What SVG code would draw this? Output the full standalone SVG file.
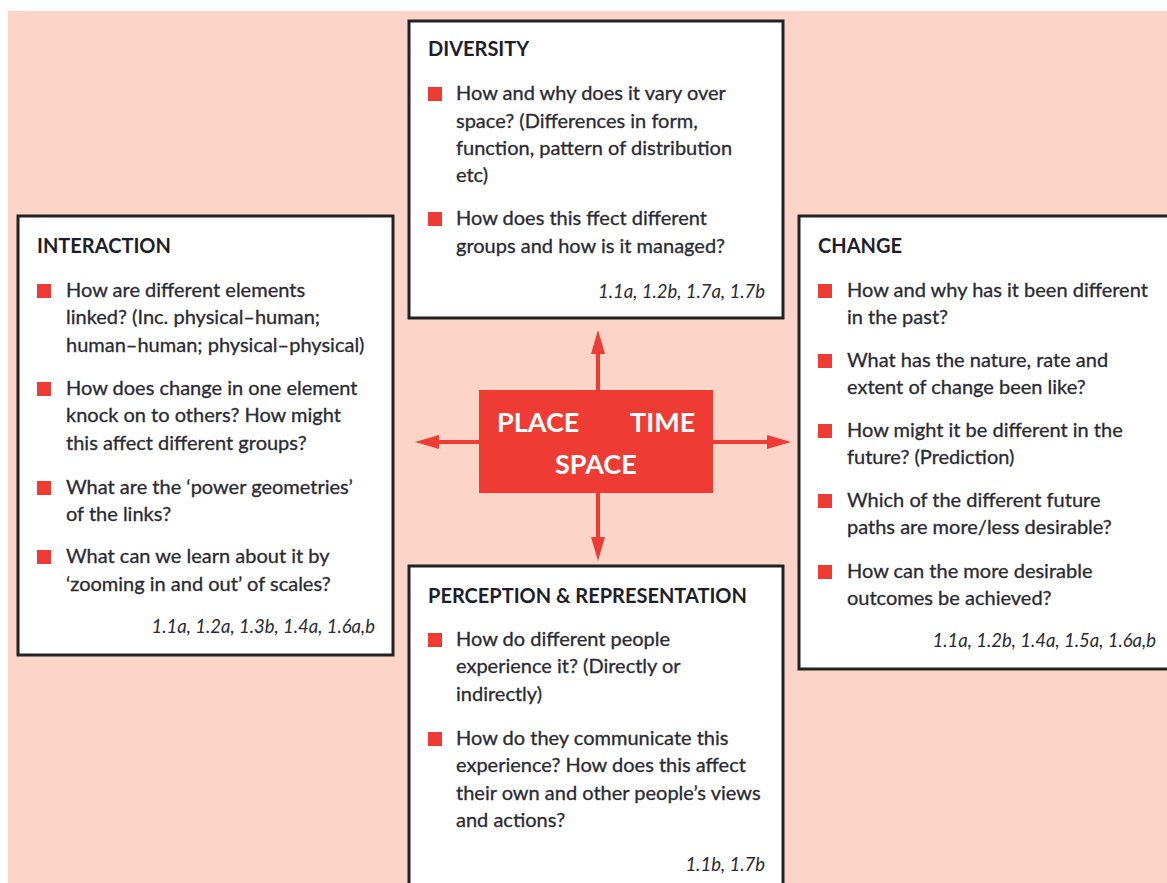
<svg xmlns="http://www.w3.org/2000/svg" width="1167" height="883" viewBox="0 0 1167 883">
<style>
.box{fill:#fff;stroke:#222;stroke-width:3}
.title{font-family:Lato,"Liberation Sans",sans-serif;font-weight:bold;font-size:20px;fill:#1e1e2a}
.body{font-family:Lato,"Liberation Sans",sans-serif;font-size:20px;fill:#2a2a33;stroke:#2a2a33;stroke-width:0.3}
.ref{font-family:Lato,"Liberation Sans",sans-serif;font-style:italic;font-size:18.5px;fill:#2a2a33;text-anchor:end}
.bul{fill:#ee3b33}
.ctr{font-family:Lato,"Liberation Sans",sans-serif;font-weight:bold;font-size:27px;fill:#fff}
.stem{stroke:#ee3b33;stroke-width:4}
.head{fill:#ee3b33}
</style>
<rect x="0" y="0" width="1167" height="883" fill="#fff"/>
<rect x="8" y="11" width="1159" height="872" fill="#fcd5c8"/>

<g id="connectors">
<line class="stem" x1="598" y1="392" x2="598" y2="350"/>
<polygon class="head" points="598,330 605,354 591,354"/>
<line class="stem" x1="598" y1="491" x2="598" y2="540"/>
<polygon class="head" points="598,561 605,537 591,537"/>
<line class="stem" x1="481" y1="442" x2="435" y2="442"/>
<polygon class="head" points="415,442 439,435 439,449"/>
<line class="stem" x1="711" y1="442" x2="770" y2="442"/>
<polygon class="head" points="791,442 767,435 767,449"/>
</g>

<g id="center">
<rect x="479" y="390" width="234" height="103" fill="#ee3b33"/>
<text class="ctr" x="497" y="432">PLACE</text>
<text class="ctr" x="630" y="432">TIME</text>
<text class="ctr" x="555" y="474">SPACE</text>
</g>

<g id="diversity">
<rect class="box" x="409" y="21" width="374" height="297"/>
<text class="title" x="428" y="56">DIVERSITY</text>
<rect class="bul" x="428" y="87" width="14" height="14"/>
<text class="body" x="456" y="100">How and why does it vary over</text>
<text class="body" x="456" y="128">space? (Differences in form,</text>
<text class="body" x="456" y="155">function, pattern of distribution</text>
<text class="body" x="456" y="182">etc)</text>
<rect class="bul" x="428" y="212" width="14" height="14"/>
<text class="body" x="456" y="225">How does this ffect different</text>
<text class="body" x="456" y="253">groups and how is it managed?</text>
<text class="ref" x="765" y="298">1.1a, 1.2b, 1.7a, 1.7b</text>
</g>

<g id="interaction">
<rect class="box" x="18" y="216" width="375" height="439"/>
<text class="title" x="37" y="253">INTERACTION</text>
<rect class="bul" x="37" y="284" width="14" height="14"/>
<text class="body" x="66" y="297">How are different elements</text>
<text class="body" x="66" y="324">linked? (Inc. physical–human;</text>
<text class="body" x="66" y="352">human–human; physical–physical)</text>
<rect class="bul" x="37" y="382" width="14" height="14"/>
<text class="body" x="66" y="395">How does change in one element</text>
<text class="body" x="66" y="422">knock on to others? How might</text>
<text class="body" x="66" y="450">this affect different groups?</text>
<rect class="bul" x="37" y="481" width="14" height="14"/>
<text class="body" x="66" y="494">What are the ‘power geometries’</text>
<text class="body" x="66" y="521">of the links?</text>
<rect class="bul" x="37" y="550" width="14" height="14"/>
<text class="body" x="66" y="563">What can we learn about it by</text>
<text class="body" x="66" y="591">‘zooming in and out’ of scales?</text>
<text class="ref" x="375" y="633">1.1a, 1.2a, 1.3b, 1.4a, 1.6a,b</text>
</g>

<g id="change">
<rect class="box" x="799" y="216" width="380" height="453"/>
<text class="title" x="818" y="253">CHANGE</text>
<rect class="bul" x="818" y="284" width="14" height="14"/>
<text class="body" x="847" y="297">How and why has it been different</text>
<text class="body" x="847" y="324">in the past?</text>
<rect class="bul" x="818" y="354" width="14" height="14"/>
<text class="body" x="847" y="367">What has the nature, rate and</text>
<text class="body" x="847" y="394">extent of change been like?</text>
<rect class="bul" x="818" y="424" width="14" height="14"/>
<text class="body" x="847" y="437">How might it be different in the</text>
<text class="body" x="847" y="464">future? (Prediction)</text>
<rect class="bul" x="818" y="494" width="14" height="14"/>
<text class="body" x="847" y="507">Which of the different future</text>
<text class="body" x="847" y="534">paths are more/less desirable?</text>
<rect class="bul" x="818" y="565" width="14" height="14"/>
<text class="body" x="847" y="578">How can the more desirable</text>
<text class="body" x="847" y="605">outcomes be achieved?</text>
<text class="ref" x="1156" y="647">1.1a, 1.2b, 1.4a, 1.5a, 1.6a,b</text>
</g>

<g id="perception">
<rect class="box" x="409" y="566" width="374" height="330"/>
<text class="title" x="428" y="603">PERCEPTION &amp; REPRESENTATION</text>
<rect class="bul" x="428" y="633" width="14" height="14"/>
<text class="body" x="456" y="646">How do different people</text>
<text class="body" x="456" y="673">experience it? (Directly or</text>
<text class="body" x="456" y="701">indirectly)</text>
<rect class="bul" x="428" y="732" width="14" height="14"/>
<text class="body" x="456" y="745">How do they communicate this</text>
<text class="body" x="456" y="772">experience? How does this affect</text>
<text class="body" x="456" y="800">their own and other people’s views</text>
<text class="body" x="456" y="827">and actions?</text>
<text class="ref" x="765" y="871">1.1b, 1.7b</text>
</g>
</svg>
